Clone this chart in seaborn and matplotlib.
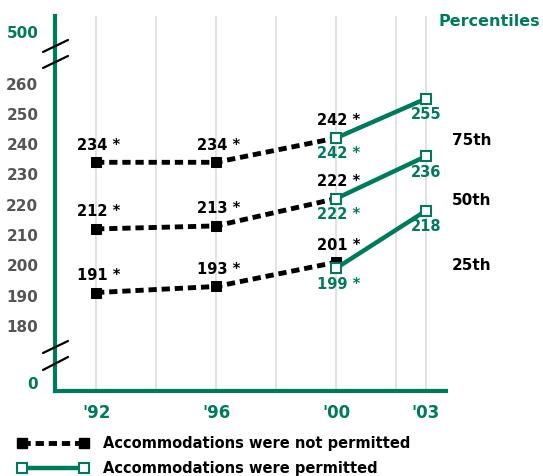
import seaborn as sns
import matplotlib.pyplot as plt
from matplotlib.lines import Line2D

# data
years_not = [1992, 1996, 2000]
years_perm = [2000, 2003]
percentiles = ["25th", "50th", "75th"]
not_permitted = {"25th": [191, 193, 201], "50th": [212, 213, 222], "75th": [234, 234, 242]}
permitted = {"25th": [199, 218], "50th": [222, 236], "75th": [242, 255]}
perm_star = [True, False]
year_ticks = [1992, 1996, 2000, 2003]
year_labels = ["'92", "'96", "'00", "'03"]
grid_years = [1992, 1994, 1996, 1998, 2000, 2002, 2003]
y_values = [180, 190, 200, 210, 220, 230, 240, 250, 260]

GREEN = "#007a5c"
GRAY = "#555555"
W, H = 543, 476

sns.set_style("white")
plt.rcParams["font.family"] = ["Liberation Sans Narrow", "DejaVu Sans Condensed", "DejaVu Sans"]
plt.rcParams["font.weight"] = "bold"
plt.rcParams["text.color"] = "black"

fig = plt.figure(figsize=(W / 100, H / 100), dpi=100)
ax = fig.add_axes([55 / W, 1 - 391 / H, (446 - 55) / W, (391 - 16) / H])

for p in percentiles:
    sns.lineplot(x=years_not, y=not_permitted[p], ax=ax, color="black", lw=3.5,
                 linestyle=(0, (1.7, 1.0)), marker="s", markersize=7.5,
                 markeredgecolor="black", zorder=3)
    sns.lineplot(x=years_perm, y=permitted[p], ax=ax, color=GREEN, lw=3.2,
                 marker="s", markersize=7, markerfacecolor="white",
                 markeredgecolor=GREEN, markeredgewidth=1.5, zorder=4)
    for x, y in zip(years_not, not_permitted[p]):
        ax.annotate(f"{y} *", (x, y), xytext=(2, 7), textcoords="offset points",
                    ha="center", va="bottom", fontsize=10.5, color="black")
    for x, y, s in zip(years_perm, permitted[p], perm_star):
        ax.annotate(f"{y} *" if s else f"{y}", (x, y), xytext=(2 if s else 0, -6),
                    textcoords="offset points", ha="center", va="top",
                    fontsize=10.5, color=GREEN)

ax.set_xlim(1990.63, 2003.67)
ax.set_ylim(158.5, 282.3)
ax.set_xticks(year_ticks)
ax.set_xticklabels(year_labels, color=GREEN, fontsize=12, fontweight="bold")
ax.set_xticks(grid_years, minor=True)
ax.xaxis.grid(True, which="both", color="#dddddd", lw=1.2)
ax.yaxis.grid(False)
ax.set_yticks([161] + y_values + [277])
ax.set_yticklabels(["0"] + [str(v) for v in y_values] + ["500"], fontsize=11)
for lab in ax.get_yticklabels():
    lab.set_color(GREEN if lab.get_text() in ("0", "500") else GRAY)
ax.tick_params(length=0, pad=12)
ax.tick_params(axis="x", pad=9)
ax.set_xlabel("")
ax.set_ylabel("")
for s in ("top", "right"):
    ax.spines[s].set_visible(False)
for s in ("left", "bottom"):
    ax.spines[s].set_color(GREEN)
    ax.spines[s].set_linewidth(3)


def fig_line(x0, y0, x1, y1):
    fig.add_artist(Line2D([x0 / W, x1 / W], [1 - y0 / H, 1 - y1 / H],
                          color="black", lw=1.6))


# axis breaks
fig_line(43, 52, 68, 40)
fig_line(43, 68, 68, 56)
fig_line(43, 353, 68, 341)
fig_line(43, 370, 68, 357)

fig.text(540 / W, 1 - 22 / H, "Percentiles", color=GREEN, fontsize=11.5,
         ha="right", va="center")
for txt, ypx in zip(["75th", "50th", "25th"], [140, 200, 265]):
    fig.text(452 / W, 1 - ypx / H, txt, color="black", fontsize=11, ha="left", va="center")

handles = [
    Line2D([], [], color="black", lw=3.5, linestyle=(0, (1.7, 1.0)), marker="s",
           markersize=7.5),
    Line2D([], [], color=GREEN, lw=3.2, marker="s", markersize=7,
           markerfacecolor="white", markeredgecolor=GREEN, markeredgewidth=1.5),
]
fig.legend(handles, ["Accommodations were not permitted", "Accommodations were permitted"],
           loc="upper left", bbox_to_anchor=(10 / W, 1 - 429 / H), frameon=False,
           numpoints=2, handlelength=4.9, fontsize=10.5, labelspacing=0.65,
           handletextpad=1.0, borderpad=0, labelcolor="black")

fig.savefig("out.png", dpi=100)
